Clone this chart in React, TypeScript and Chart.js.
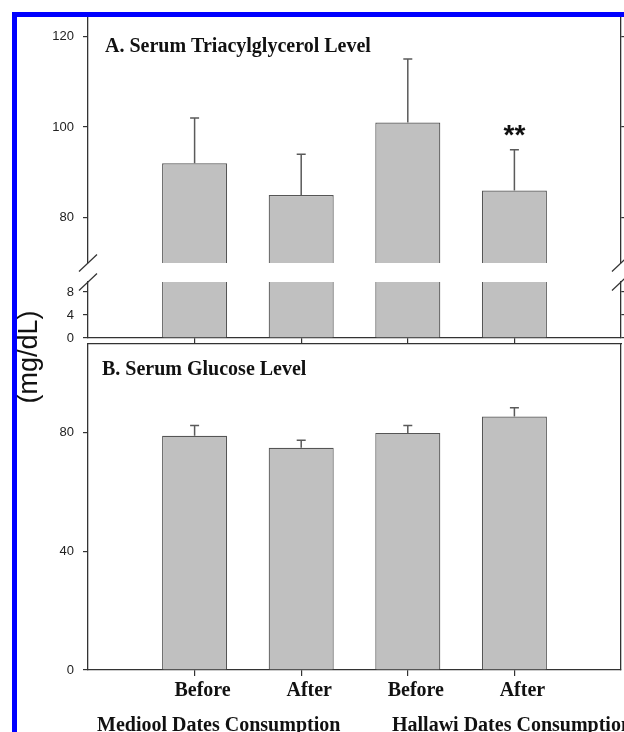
import React, { useEffect, useRef } from "react";
import { Chart, registerables } from "chart.js";

Chart.register(...registerables);

// ---------------- data ----------------
const CATEGORIES = ["Before", "After", "Before", "After"];
const GROUP_LABELS = ["Mediool Dates Consumption", "Hallawi Dates Consumption"];

const TG_MEAN = [92, 85, 101, 86];
const TG_ERR_TOP = [102, 94, 115, 95];
const TG_SIG = ["", "", "", "**"];

const GLU_MEAN = [79, 75, 80, 85.5];
const GLU_ERR_TOP = [82.5, 77.5, 82.5, 88.5];

const TG_UPPER_TICKS = [80, 100, 120];
const TG_LOWER_TICKS = [0, 4, 8];
const GLU_TICKS = [0, 40, 80];

const TITLE_A = "A. Serum Triacylglycerol Level";
const TITLE_B = "B. Serum Glucose Level";
const Y_TITLE = "(mg/dL)";

// ---------------- styling ----------------
const W = 624;
const H = 732;
const AXIS = "#333333";
const BAR_FILL = "#c0c0c0";
const BAR_EDGE = "#555555";
const ERR_COLOR = "#5a5a5a";
const SERIF = "'Liberation Serif', 'Times New Roman', Times, serif";
const SANS = "Arial, 'Liberation Sans', Helvetica, sans-serif";

// padded category slots: empty slot at each end
const LABELS = ["", ...CATEGORIES, ""];
const pad = (a: any[]) => [null, ...a, null];

function yAxis(min: number, max: number, ticks: number[], position: string, showLabels: boolean, width: number, showTicks = true) {
  return {
    type: "linear",
    position,
    min,
    max,
    afterBuildTicks: (s: any) => {
      s.ticks = ticks.map((v) => ({ value: v }));
    },
    afterFit: (s: any) => {
      s.width = width;
    },
    grid: {
      display: showTicks,
      drawOnChartArea: false,
      drawTicks: true,
      tickLength: 5,
      color: AXIS,
      tickColor: AXIS,
      lineWidth: 1.2,
    },
    border: { display: true, color: AXIS, width: 1.3 },
    ticks: {
      display: showLabels,
      padding: 9,
      color: "#222",
      font: { family: SANS, size: 13 },
    },
  };
}

function xAxis(showLabels: boolean, height: number, tickLength: number) {
  return {
    type: "category",
    position: "bottom",
    offset: false,
    afterFit: (s: any) => {
      s.height = height;
    },
    grid: {
      display: true,
      offset: false,
      drawOnChartArea: false,
      drawTicks: true,
      tickLength,
      color: AXIS,
      lineWidth: 1.2,
      tickColor: (ctx: any) => (LABELS[ctx.index] ? AXIS : "rgba(0,0,0,0)"),
    },
    border: { display: true, color: AXIS, width: 1.3 },
    ticks: {
      display: showLabels,
      autoSkip: false,
      maxRotation: 0,
      padding: 3,
      labelOffset: 8,
      color: "#111",
      font: { family: SERIF, size: 20, weight: "bold" },
    },
  };
}

function barDataset(values: number[]) {
  return {
    data: pad(values),
    backgroundColor: BAR_FILL,
    borderColor: BAR_EDGE,
    borderWidth: 1.2,
    barPercentage: 0.61,
    categoryPercentage: 1,
    clip: 0,
  };
}

function drawErrorBars(chart: any, ctx: CanvasRenderingContext2D, tops: (number | null)[]) {
  const meta = chart.getDatasetMeta(0);
  const ys = chart.scales.y;
  ctx.strokeStyle = ERR_COLOR;
  ctx.lineWidth = 1.5;
  meta.data.forEach((bar: any, i: number) => {
    const t = tops[i];
    if (t == null) return;
    const yT = ys.getPixelForValue(t);
    ctx.beginPath();
    ctx.moveTo(bar.x, bar.y);
    ctx.lineTo(bar.x, yT);
    ctx.moveTo(bar.x - 4.5, yT);
    ctx.lineTo(bar.x + 4.5, yT);
    ctx.stroke();
  });
}

function drawBreaks(chart: any, ctx: CanvasRenderingContext2D, atBottom: boolean) {
  const { left, right, top, bottom } = chart.chartArea;
  const y = atBottom ? bottom : top;
  ctx.strokeStyle = AXIS;
  ctx.lineWidth = 1.2;
  for (const x of [left, right]) {
    ctx.beginPath();
    ctx.moveTo(x - 9, y + 8.5);
    ctx.lineTo(x + 9, y - 8.5);
    ctx.stroke();
  }
}

const baseOptions = (padding: any, scales: any) => ({
  animation: false,
  responsive: false,
  maintainAspectRatio: false,
  devicePixelRatio: 1,
  layout: { padding },
  plugins: { legend: { display: false }, tooltip: { enabled: false }, title: { display: false } },
  events: [],
  scales,
});

function configUpperA(): any {
  return {
    type: "bar",
    data: { labels: LABELS, datasets: [barDataset(TG_MEAN)] },
    options: baseOptions(
      { left: 28, right: 0, top: 12, bottom: H - 263 },
      {
        x: { type: "category", display: false, offset: false },
        y: yAxis(70, 124.3, TG_UPPER_TICKS, "left", true, 60),
        yR: yAxis(70, 124.3, TG_UPPER_TICKS, "right", false, 3),
      }
    ),
    plugins: [
      {
        id: "overlayA1",
        afterDatasetsDraw(chart: any) {
          const ctx = chart.ctx;
          ctx.save();
          const tops = pad(TG_ERR_TOP);
          drawErrorBars(chart, ctx, tops);
          // significance marks
          const meta = chart.getDatasetMeta(0);
          const ys = chart.scales.y;
          const sig = pad(TG_SIG);
          ctx.fillStyle = "#111";
          ctx.font = `bold 28px ${SANS}`;
          ctx.textAlign = "center";
          ctx.textBaseline = "alphabetic";
          meta.data.forEach((bar: any, i: number) => {
            const s = sig[i];
            const t = tops[i];
            if (!s || t == null) return;
            ctx.fillText(s, bar.x, ys.getPixelForValue(t) - 6);
          });
          drawBreaks(chart, ctx, true);
          // title
          const { left, top } = chart.chartArea;
          ctx.textAlign = "left";
          ctx.font = `bold 20px ${SERIF}`;
          ctx.fillText(TITLE_A, left + 17, top + 35);
          ctx.restore();
        },
      },
    ],
  };
}

function configLowerA(): any {
  return {
    type: "bar",
    data: { labels: LABELS, datasets: [barDataset(TG_MEAN)] },
    options: baseOptions(
      { left: 28, right: 0, top: 282, bottom: H - 338 - 10 },
      {
        x: xAxis(false, 10, 5),
        y: yAxis(0, 9.74, TG_LOWER_TICKS, "left", true, 60),
        yR: yAxis(0, 9.74, TG_LOWER_TICKS, "right", false, 3),
      }
    ),
    plugins: [
      {
        id: "overlayA2",
        afterDatasetsDraw(chart: any) {
          const ctx = chart.ctx;
          ctx.save();
          drawBreaks(chart, ctx, false);
          ctx.restore();
        },
      },
    ],
  };
}

function configB(): any {
  return {
    type: "bar",
    data: { labels: LABELS, datasets: [barDataset(GLU_MEAN)] },
    options: baseOptions(
      { left: 28, right: 0, top: 344, bottom: H - 670 - 40 },
      {
        x: xAxis(true, 40, 6),
        xTop: {
          type: "category",
          position: "top",
          offset: false,
          afterFit: (s: any) => {
            s.height = 0;
          },
          grid: { display: false },
          ticks: { display: false },
          border: { display: true, color: AXIS, width: 1.3 },
        },
        y: yAxis(0, 110, GLU_TICKS, "left", true, 60),
        yR: yAxis(0, 110, GLU_TICKS, "right", false, 3, false),
      }
    ),
    plugins: [
      {
        id: "overlayB",
        afterDatasetsDraw(chart: any) {
          const ctx = chart.ctx;
          ctx.save();
          drawErrorBars(chart, ctx, pad(GLU_ERR_TOP));
          const { left, top } = chart.chartArea;
          ctx.fillStyle = "#111";
          ctx.textAlign = "left";
          ctx.textBaseline = "alphabetic";
          ctx.font = `bold 20px ${SERIF}`;
          ctx.fillText(TITLE_B, left + 14, top + 31);
          // group labels under the category labels
          ctx.fillText(GROUP_LABELS[0], left + 9, 731);
          ctx.fillText(GROUP_LABELS[1], left + 304, 731);
          // shared y-axis title
          ctx.translate(29.5, 357);
          ctx.rotate(-Math.PI / 2);
          ctx.textAlign = "center";
          ctx.textBaseline = "middle";
          ctx.font = `27px ${SANS}`;
          ctx.fillText(Y_TITLE, 0, 0);
          ctx.restore();
        },
      },
    ],
  };
}

export default function App() {
  const refA1 = useRef<HTMLCanvasElement>(null);
  const refA2 = useRef<HTMLCanvasElement>(null);
  const refB = useRef<HTMLCanvasElement>(null);

  useEffect(() => {
    const charts = [
      new Chart(refA1.current as HTMLCanvasElement, configUpperA()),
      new Chart(refA2.current as HTMLCanvasElement, configLowerA()),
      new Chart(refB.current as HTMLCanvasElement, configB()),
    ];
    return () => charts.forEach((c) => c.destroy());
  }, []);

  const cs: React.CSSProperties = { position: "absolute", left: 0, top: 0, width: W, height: H };
  return (
    <div
      style={{
        position: "absolute",
        left: 0,
        top: 0,
        width: W,
        height: H,
        overflow: "hidden",
        background: "#ffffff",
      }}
    >
      <canvas ref={refA1} width={W} height={H} style={cs} />
      <canvas ref={refA2} width={W} height={H} style={cs} />
      <canvas ref={refB} width={W} height={H} style={cs} />
      <div
        style={{
          position: "absolute",
          left: 12,
          top: 12,
          right: 0,
          bottom: 0,
          borderTop: "5px solid #0000ff",
          borderLeft: "5px solid #0000ff",
          pointerEvents: "none",
        }}
      />
    </div>
  );
}
